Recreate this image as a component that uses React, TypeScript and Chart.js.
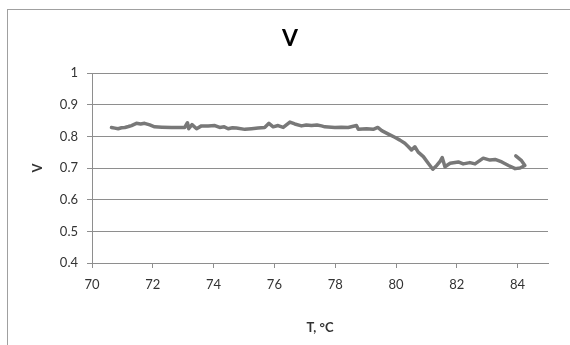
import React, { useEffect, useRef } from "react";
import { Chart, registerables } from "chart.js";

Chart.register(...registerables);

const TITLE = "V";
const X_TITLE = "T, °C";
const Y_TITLE = "V";

const T_VALUES = [
  70.64, 70.75, 70.86, 70.97, 71.08, 71.2, 71.3, 71.46, 71.6, 71.73,
  71.9, 72.06, 72.3, 72.61, 72.85, 73.05, 73.14, 73.18, 73.29, 73.44,
  73.6, 73.82, 74.04, 74.2, 74.35, 74.48, 74.62, 74.75, 75.03, 75.25,
  75.46, 75.68, 75.82, 75.96, 76.12, 76.29, 76.51, 76.67, 76.89, 77.05,
  77.22, 77.4, 77.55, 77.66, 77.99, 78.2, 78.43, 78.7, 78.76, 79.03,
  79.25, 79.4, 79.53, 79.75, 79.96, 80.13, 80.29, 80.4, 80.51, 80.62,
  80.73, 80.9, 81.06, 81.21, 81.34, 81.45, 81.52, 81.61, 81.78, 82.05,
  82.21, 82.43, 82.6, 82.87, 83.09, 83.26, 83.48, 83.7, 83.92, 84.08,
  84.24, 84.13, 83.94,
];

const V_VALUES = [
  0.828, 0.826, 0.824, 0.827, 0.828, 0.831, 0.834, 0.841, 0.839, 0.841,
  0.836, 0.83, 0.829, 0.828, 0.828, 0.828, 0.843, 0.824, 0.837, 0.824,
  0.833, 0.833, 0.834, 0.828, 0.83, 0.824, 0.827, 0.826, 0.822, 0.824,
  0.826, 0.828, 0.841, 0.83, 0.834, 0.828, 0.845, 0.839, 0.833, 0.836,
  0.834, 0.836, 0.833, 0.83, 0.828, 0.829, 0.828, 0.834, 0.822, 0.824,
  0.822, 0.828, 0.818, 0.807, 0.797, 0.788, 0.778, 0.768, 0.757, 0.767,
  0.75, 0.736, 0.715, 0.696, 0.708, 0.721, 0.733, 0.704, 0.715, 0.719,
  0.713, 0.717, 0.713, 0.731, 0.725, 0.727, 0.719, 0.708, 0.698, 0.7,
  0.708, 0.723, 0.738,
];

const X_MIN = 70;
const X_MAX = 85;
const X_STEP = 2;
const Y_MIN = 0.4;
const Y_MAX = 1;
const Y_STEP = 0.1;

const FONT = "Lato, 'Open Sans', sans-serif";
const GRID = "#8e8e8e";

const framePlugin = {
  id: "frameAndTitle",
  beforeDraw(chart: any) {
    const ctx = chart.ctx;
    ctx.save();
    ctx.fillStyle = "#ffffff";
    ctx.fillRect(0, 0, chart.width, chart.height);
    ctx.strokeStyle = "#a0a0a0";
    ctx.lineWidth = 1;
    ctx.strokeRect(7.5, 9.5, chart.width + 20, chart.height + 20);
    ctx.restore();
  },
  afterDraw(chart: any) {
    const ctx = chart.ctx;
    ctx.save();
    ctx.fillStyle = "#000000";
    ctx.font = `bold 23px ${FONT}`;
    ctx.textAlign = "center";
    ctx.textBaseline = "middle";
    ctx.fillText(TITLE, 290, 39);
    ctx.restore();
  },
};

export default function App() {
  const ref = useRef<HTMLCanvasElement | null>(null);

  useEffect(() => {
    if (!ref.current) return;
    const points = T_VALUES.map((t, i) => ({ x: t, y: V_VALUES[i] }));
    const chart = new Chart(ref.current, {
      type: "scatter",
      data: {
        datasets: [
          {
            data: points,
            showLine: true,
            borderColor: "#787878",
            backgroundColor: "#787878",
            borderWidth: 3.5,
            pointRadius: 0,
            tension: 0,
            borderJoinStyle: "round",
            borderCapStyle: "round",
          },
        ],
      },
      options: {
        animation: false,
        responsive: false,
        devicePixelRatio: 1,
        layout: { padding: { top: 73, left: 0, right: 22, bottom: 0 } },
        plugins: {
          legend: { display: false },
          title: { display: false },
          tooltip: { enabled: false },
        },
        scales: {
          x: {
            type: "linear",
            min: X_MIN,
            max: X_MAX,
            afterFit: (s: any) => {
              s.height = 82;
            },
            ticks: {
              stepSize: X_STEP,
              includeBounds: false,
              color: "#333333",
              font: { family: FONT, size: 13 },
              padding: 9,
              maxRotation: 0,
            },
            grid: {
              drawOnChartArea: false,
              drawTicks: true,
              tickLength: 5,
              color: GRID,
            },
            border: { display: true, color: GRID },
            title: {
              display: true,
              text: X_TITLE,
              color: "#333333",
              font: { family: FONT, size: 13, weight: "bold" },
              padding: { top: 0, bottom: 9 },
            },
          },
          y: {
            type: "linear",
            min: Y_MIN,
            max: Y_MAX,
            afterFit: (s: any) => {
              s.width = 92;
            },
            ticks: {
              stepSize: Y_STEP,
              color: "#333333",
              font: { family: FONT, size: 13 },
              padding: 9,
              callback: (v: any) => String(+Number(v).toFixed(1)),
            },
            grid: {
              color: GRID,
              tickLength: 5,
            },
            border: { display: true, color: GRID },
            title: {
              display: true,
              text: Y_TITLE,
              color: "#333333",
              font: { family: FONT, size: 13, weight: "bold" },
              padding: { top: 30, bottom: 0 },
            },
          },
        },
      },
      plugins: [framePlugin],
    });
    return () => chart.destroy();
  }, []);

  return (
    <div style={{ position: "fixed", left: 0, top: 0, width: 570, height: 345 }}>
      <canvas ref={ref} width={570} height={345} style={{ display: "block" }} />
    </div>
  );
}
